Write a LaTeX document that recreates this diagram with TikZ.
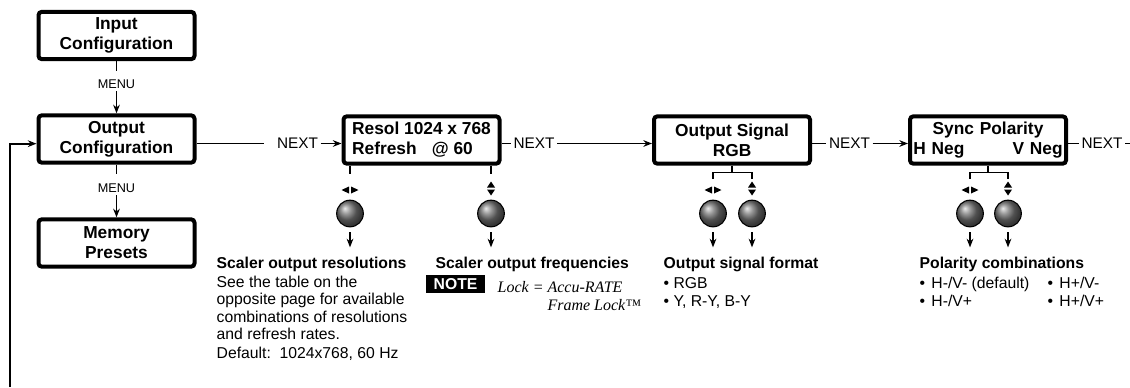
\documentclass[tikz,border=0pt]{standalone}
\usepackage{fontspec}
\setmainfont{Liberation Sans}
\newfontfamily\lockfont{Liberation Serif}
\usetikzlibrary{positioning,arrows.meta}

\tikzset{
	menubox/.style={draw, fill=white, line width=3pt, rounded corners=2.5pt, minimum width=117pt, minimum height=35.5pt, inner sep=1pt, align=center, font=\fontsize{13}{15}\selectfont\bfseries},
	navtext/.style={font=\fontsize{11.5}{13}\selectfont, inner xsep=1.5pt, inner ysep=0pt},
	menutext/.style={font=\fontsize{9.5}{11}\selectfont, inner sep=1.5pt},
	knob/.style={circle, draw, line width=0.8pt, minimum size=20pt, inner sep=0pt, shade, ball color=black!55},
	infotext/.style={anchor=north west, inner sep=0pt, align=left, font=\fontsize{11.8}{13}\selectfont},
	lrmark/.pic={
		\fill (-1,-3.5) -- (-1,3.5) -- (-8.5,0) -- cycle;
		\fill (1,-3.5) -- (1,3.5) -- (8.5,0) -- cycle;
	},
	udmark/.pic={
		\fill (-4,-1) -- (4,-1) -- (0,-7) -- cycle;
		\fill (-4,1) -- (4,1) -- (0,7) -- cycle;
	}
}

\begin{document}
\begin{tikzpicture}[x=0.75pt, y=-0.75pt, line width=1pt, >={Stealth[length=6.5pt,width=5pt]}]
	\pgfmathsetmacro{\RowY}{140}
	\pgfmathsetmacro{\NextY}{143.5}
	\pgfmathsetmacro{\KnobY}{213.5}
	\pgfmathsetmacro{\MarkY}{190}
	\pgfmathsetmacro{\InfoY}{256}
	\useasboundingbox (0,0) rectangle (1130,387);
	% LEFT COLUMN
	\node[menubox] (in1) at (116.5,35.5) {Input\\Configuration};
	\node[menubox] (oconf) at (116.5,139) {Output\\Configuration};
	\node[menubox] (mem) at (116.5,243) {Memory\\Presets};
	\node[menutext] (menu1) at (116.5,84) {MENU};
	\node[menutext] (menu2) at (116.5,188) {MENU};
	\draw (in1.south) -- ([yshift=4.5pt]menu1.north);
	\draw[->] (menu1.south) -- (oconf.north);
	\draw (oconf.south) -- ([yshift=5pt]menu2.north);
	\draw[->] (menu2.south) -- (mem.north);
	\coordinate (ret) at (10,387);
	\draw[->, line width=1.4pt] (ret) |- ([yshift=-3.5pt]oconf.west);
	% TOP ROW
	\node[menubox, align=left] (resol) at (421.5,\RowY) {Resol 1024 x 768\\Refresh\hspace{0.6em} @ 60};
	\node[menubox] (osig) at (732,\RowY) {Output Signal\\RGB};
	\node[menubox, text width=112pt, inner xsep=2.5pt] (sync) at (988,\RowY) {Sync Polarity\\H Neg\hfill V Neg};
	\node[navtext] (next1) at (297.5,\NextY) {NEXT};
	\node[navtext] (next2) at (534,\NextY) {NEXT};
	\node[navtext] (next3) at (849.5,\NextY) {NEXT};
	\node[navtext] (next4) at (1102,\NextY) {NEXT};
	\coordinate (rightend) at (1130,\NextY);
	\draw (oconf.east |- next1) -- ([xshift=-7.5pt]next1.west);
	\draw[->] (next1.east) -- (next1 -| resol.west);
	\draw (resol.east |- next2) -- (next2.west);
	\draw[->] (next2.east) -- (next2 -| osig.west);
	\draw (osig.east |- next3) -- (next3.west);
	\draw[->] (next3.east) -- (next3 -| sync.west);
	\draw (sync.east |- next4) -- (next4.west);
	\draw (next4.east) -- (rightend);
	% KNOBS
	\node[knob] (k1) at (350,\KnobY) {};
	\node[knob] (k2) at (491,\KnobY) {};
	\node[knob] (k3) at (713,\KnobY) {};
	\node[knob] (k4) at (752,\KnobY) {};
	\node[knob] (k5) at (970,\KnobY) {};
	\node[knob] (k6) at (1008,\KnobY) {};
	\pic at (350,\MarkY) {lrmark};
	\pic at (491,\MarkY-1.5) {udmark};
	\pic at (713,\MarkY) {lrmark};
	\pic at (752,\MarkY-1.5) {udmark};
	\pic at (970,\MarkY) {lrmark};
	\pic at (1008,\MarkY-1.5) {udmark};
	\draw (resol.south -| k1) -- ++(0,8);
	\draw (resol.south -| k2) -- ++(0,8);
	\draw (osig.south) -- ++(0,7) coordinate (osigbr);
	\draw (osigbr -| k3) ++(0,6) -- (osigbr -| k3) -- (osigbr -| k4) -- ++(0,6);
	\draw (sync.south) -- ++(0,7) coordinate (syncbr);
	\draw (syncbr -| k5) ++(0,6) -- (syncbr -| k5) -- (syncbr -| k6) -- ++(0,6);
	\foreach \k in {k1,k2,k3,k4,k5,k6}
		\draw[->] (\k.south) ++(0,5) -- ++(0,15);
	% TEXTS
	\node[infotext] (resinfo) at (216,\InfoY) {\textbf{Scaler output resolutions}\\[1.5pt]See the table on the\\opposite page for available\\combinations of resolutions\\and refresh rates.\\[1.5pt]Default:\ \ 1024x768, 60 Hz};
	\node[infotext] (freqinfo) at (435,\InfoY) {\textbf{Scaler output frequencies}};
	\node[fill=black, text=white, font=\fontsize{11.8}{13}\selectfont\bfseries, inner xsep=5.5pt, inner ysep=0pt, minimum height=13.5pt] (note) at (455.5,284) {NOTE};
	\node[anchor=north west, inner sep=0pt, align=left, font=\fontsize{12}{13.5}\selectfont\lockfont\itshape] (lock) at (497,281) {Lock = Accu-RATE\\\phantom{Lock = }Frame Lock™};
	\node[infotext] (sigfmt) at (663,\InfoY) {\textbf{Output signal format}\\[2.5pt]• RGB\\• Y, R-Y, B-Y};
	\node[infotext] (polinfo) at (919,\InfoY) {\textbf{Polarity combinations}\\[2.5pt]•\hspace{0.4em}H-/V- (default)\\•\hspace{0.4em}H-/V+};
	\node[infotext] (polinfo2) at (1047,\InfoY) {\vphantom{l}\\[2.5pt]•\hspace{0.4em}H+/V-\\•\hspace{0.4em}H+/V+};
\end{tikzpicture}
\end{document}
